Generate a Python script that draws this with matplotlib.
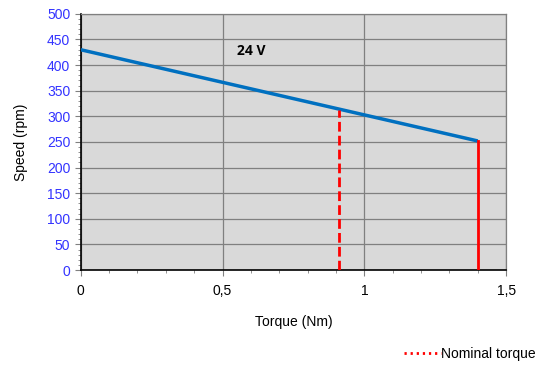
import numpy as np
import matplotlib.pyplot as plt
from matplotlib.ticker import MultipleLocator, FuncFormatter

plt.rcParams['font.family'] = ['Liberation Sans', 'DejaVu Sans']

# data
torque = [0.0, 1.4]
speed = [430, 252]
nominal_torque = 0.91
nominal_speed = 313
max_torque = 1.4
max_speed = 252

fig = plt.figure(figsize=(5.35, 3.65), dpi=100)
ax = fig.add_axes([0.151, 0.260, 0.795, 0.702])
ax.set_facecolor('#d9d9d9')

ax.set_xlim(0, 1.5)
ax.set_ylim(0, 500)
ax.xaxis.set_major_locator(MultipleLocator(0.5))
ax.xaxis.set_minor_locator(MultipleLocator(0.1))
ax.yaxis.set_major_locator(MultipleLocator(50))
ax.yaxis.set_minor_locator(MultipleLocator(10))
ax.xaxis.set_major_formatter(FuncFormatter(lambda v, p: ('%g' % v).replace('.', ',')))

ax.grid(True, which='major', color='#808080', linewidth=0.9)
ax.set_axisbelow(True)

ax.tick_params(axis='both', which='both', direction='out', color='#808080')
ax.tick_params(axis='both', which='major', length=4, labelsize=10)
ax.tick_params(axis='both', which='minor', length=2)
ax.tick_params(axis='y', labelcolor='#3333ff')
ax.tick_params(axis='x', pad=6)

for s in ['left', 'bottom']:
    ax.spines[s].set_color('black')
    ax.spines[s].set_linewidth(1.2)
for s in ['top', 'right']:
    ax.spines[s].set_color('#808080')
    ax.spines[s].set_linewidth(0.9)

ax.plot(torque, speed, color='#0070c0', linewidth=2.5, solid_capstyle='butt', zorder=3)
ax.plot([nominal_torque, nominal_torque], [0, nominal_speed], color='red',
        linewidth=2, linestyle=(0, (3.5, 1.5)), zorder=4)
ax.plot([max_torque, max_torque], [0, max_speed], color='red', linewidth=2, zorder=4)

ax.text(0.55, 428, '24 V', fontsize=10, fontweight='bold', family='Open Sans', va='center')

ax.set_xlabel('Torque (Nm)', fontsize=10, labelpad=12)
ax.set_ylabel('Speed (rpm)', fontsize=10, labelpad=14)

h, = ax.plot([], [], color='red', linestyle=(0, (0.8, 1.4)), linewidth=2)
fig.legend([h], ['Nominal torque'], loc='lower right', bbox_to_anchor=(1.025, -0.022),
           frameon=False, fontsize=10, handlelength=2.6, handletextpad=0.05)

fig.savefig('out.png', dpi=100)
